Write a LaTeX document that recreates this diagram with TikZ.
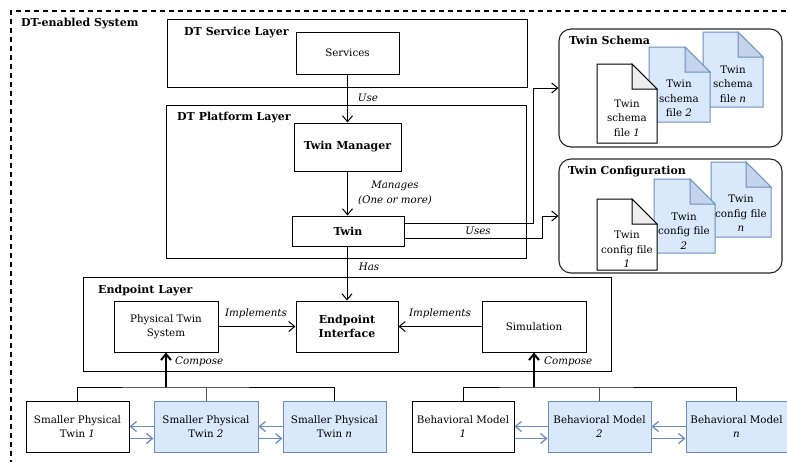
\documentclass[tikz,border=0pt]{standalone}
\usepackage{fontspec}
\setmainfont{DejaVu Serif}
\usetikzlibrary{arrows.meta,calc}
\definecolor{bfill}{HTML}{DAE8FC}
\definecolor{bline}{HTML}{6C8EBF}
\definecolor{bfold}{HTML}{C3D4EC}
\definecolor{wfold}{HTML}{EEEEEE}
\definecolor{busgray}{HTML}{555555}
\newcommand{\fsz}{\fontsize{10.3}{14.5}\selectfont}
\newcommand{\fbd}{\fontsize{11}{14.5}\selectfont\bfseries}
\newcommand{\docsheet}[6]{%
  \path[#1] (#3,#4) -- ({#5-25},#4) -- (#5,{#4+25}) -- (#5,#6) -- (#3,#6) -- cycle;
  \path[#2] ({#5-25},#4) -- ({#5-25},{#4+25}) -- (#5,{#4+25}) -- cycle;}
\begin{document}
\begin{tikzpicture}[x=1pt,y=-1pt,font=\fsz,
  box/.style={draw=black,line width=1pt,fill=white,inner sep=0pt,align=center},
  bbox/.style={draw=bline,fill=bfill,line width=1pt,inner sep=0pt,align=center},
  layer/.style={draw=black,line width=1pt,inner sep=0pt},
  group/.style={draw=black!85,line width=1.1pt,rounded corners=12pt,inner sep=0pt},
  sysframe/.style={draw=black,line width=1.5pt,dash pattern=on 5pt off 4pt,inner sep=0pt},
  ttl/.style={font=\fbd,anchor=west,inner sep=0pt},
  lbl/.style={font=\fsz\itshape,inner sep=0pt,align=center},
  doctxt/.style={inner sep=0pt,align=center},
  arr/.style={-{Straight Barb[length=6pt,width=10pt]},line width=1pt},
  carr/.style={-{Straight Barb[length=6pt,width=10pt]},line width=2pt},
  barr/.style={-{Straight Barb[length=6pt,width=10pt]},line width=1.3pt,draw=bline},
  bus/.style={line width=1pt,draw=black},
  busg/.style={line width=1pt,draw=busgray},
  wdoc/.style={draw=black,line width=1pt,fill=white},
  wdocf/.style={draw=black,line width=1pt,fill=wfold},
  bdoc/.style={draw=bline,line width=1pt,fill=bfill},
  bdocf/.style={draw=bline,line width=1pt,fill=bfold}]
\useasboundingbox (0,0) rectangle (787,461);

% outer frame
\node[sysframe,minimum width=781pt,minimum height=455pt] (sys) at (401.5,238.5) {};
\node[ttl] (systtl) at (21,24) {DT-enabled System};

% layers
\node[layer,minimum width=360pt,minimum height=68pt] (servlayer) at (347,53) {};
\node[ttl] (servttl) at (184,33) {DT Service Layer};
\node[layer,minimum width=360pt,minimum height=153pt] (platlayer) at (346,181.5) {};
\node[ttl] (platttl) at (177,118) {DT Platform Layer};
\node[layer,minimum width=528pt,minimum height=94pt] (endlayer) at (347,324) {};
\node[ttl] (endttl) at (98,291) {Endpoint Layer};

% main boxes
\node[box,minimum width=103pt,minimum height=42pt] (services) at (347.5,53) {Services};
\node[box,minimum width=107pt,minimum height=48pt,font=\fbd] (twinmgr) at (347.5,147) {Twin Manager};
\node[box,minimum width=112pt,minimum height=30pt,font=\fbd] (twin) at (348,231) {Twin};
\node[box,minimum width=104pt,minimum height=51pt] (pts) at (166,326.5) {Physical Twin\\System};
\node[box,minimum width=102pt,minimum height=51pt,font=\fbd] (epi) at (347,326.5) {Endpoint\\Interface};
\node[box,minimum width=104pt,minimum height=51pt] (sim) at (534,326.5) {Simulation};

% bottom rows
\node[box,minimum width=103pt,minimum height=51pt] (spt1) at (77.5,426.5) {Smaller Physical\\Twin \textit{1}};
\node[bbox,minimum width=104pt,minimum height=51pt] (spt2) at (206,426.5) {Smaller Physical\\Twin \textit{2}};
\node[bbox,minimum width=103pt,minimum height=51pt] (sptn) at (334.5,426.5) {Smaller Physical\\Twin \textit{n}};
\node[box,minimum width=102pt,minimum height=51pt] (bm1) at (463,426.5) {Behavioral Model\\\textit{1}};
\node[bbox,minimum width=103pt,minimum height=51pt] (bm2) at (599.5,426.5) {Behavioral Model\\\textit{2}};
\node[bbox,minimum width=101pt,minimum height=51pt] (bmn) at (736.5,426.5) {Behavioral Model\\\textit{n}};

% groups on the right
\node[group,minimum width=223pt,minimum height=118pt] (schema) at (670.5,88) {};
\node[ttl] (schttl) at (569,40) {Twin Schema};
\node[group,minimum width=223pt,minimum height=114pt] (config) at (670.5,216) {};
\node[ttl] (cfgttl) at (568,172) {Twin Configuration};

% schema documents
\docsheet{bdoc}{bdocf}{703}{32}{763}{107}
\docsheet{bdoc}{bdocf}{649}{47}{710}{122}
\docsheet{wdoc}{wdocf}{597}{64}{657}{143}
\node[doctxt] (sfn) at (733,84) {Twin\\schema\\file \textit{n}};
\node[doctxt] (sf2) at (679,98.5) {Twin\\schema\\file \textit{2}};
\node[doctxt] (sf1) at (627,118) {Twin\\schema\\file \textit{1}};

% config documents
\docsheet{bdoc}{bdocf}{711}{162}{771}{237}
\docsheet{bdoc}{bdocf}{654}{179}{715}{253}
\docsheet{wdoc}{wdocf}{597}{199}{657}{270}
\node[doctxt] (cfn) at (741,213.5) {Twin\\config file\\\textit{n}};
\node[doctxt] (cf2) at (684,231) {Twin\\config file\\\textit{2}};
\node[doctxt] (cf1) at (627,249.5) {Twin\\config file\\\textit{1}};

% vertical connectors
\draw[arr] (services.south) -- (services.south |- twinmgr.north);
\node[lbl] (uselbl) at (368,98) {Use};
\draw[arr] (twinmgr.south) -- (twinmgr.south |- twin.north);
\node[lbl] (mglbl) at (395,193) {Manages\\(One or more)};
\draw[arr] (twin.south -| epi.north) -- (epi.north);
\node[lbl] (haslbl) at (369,267) {Has};

% twin to schema / config
\draw[arr] ($(twin.east)+(0,-8)$) -| ($(schema.west)+(-25,0)$) -- (schema.west);
\draw[arr] ($(twin.east)+(0,7)$) -| ($(config.west)+(-16,0)$) -- (config.west);
\node[lbl] (useslbl) at (478,231) {Uses};

% implements
\draw[arr] (pts.east) -- (epi.west);
\node[lbl] (impl1) at (256,314) {Implements};
\draw[arr] (sim.west) -- (epi.east);
\node[lbl] (impl2) at (440,314) {Implements};

% compose buses
\coordinate (busa) at (166,387);
\draw[bus] (spt1.north) |- (busa) -| (sptn.north);
\draw[busg] (spt2.north) -- (spt2.north |- busa);
\draw[carr] (busa) -- (pts.south);
\node[lbl,anchor=west] (comp1) at (175,362) {Compose};

\coordinate (busb) at (534,387);
\draw[bus] (bm1.north) |- (busb) -| (bmn.north);
\draw[busg] (bm2.north) -- (bm2.north |- busb);
\draw[carr] (busb) -- (sim.south);
\node[lbl,anchor=west] (comp2) at (544,362) {Compose};

% blue sibling arrows
\draw[barr] (spt2.west) -- (spt1.east);
\draw[barr] ($(spt1.east)+(0,12)$) -- ($(spt2.west)+(0,12)$);
\draw[barr] (sptn.west) -- (spt2.east);
\draw[barr] ($(spt2.east)+(0,12)$) -- ($(sptn.west)+(0,12)$);
\draw[barr] (bm2.west) -- (bm1.east);
\draw[barr] ($(bm1.east)+(0,12)$) -- ($(bm2.west)+(0,12)$);
\draw[barr] (bmn.west) -- (bm2.east);
\draw[barr] ($(bm2.east)+(0,12)$) -- ($(bmn.west)+(0,12)$);
\end{tikzpicture}
\end{document}
